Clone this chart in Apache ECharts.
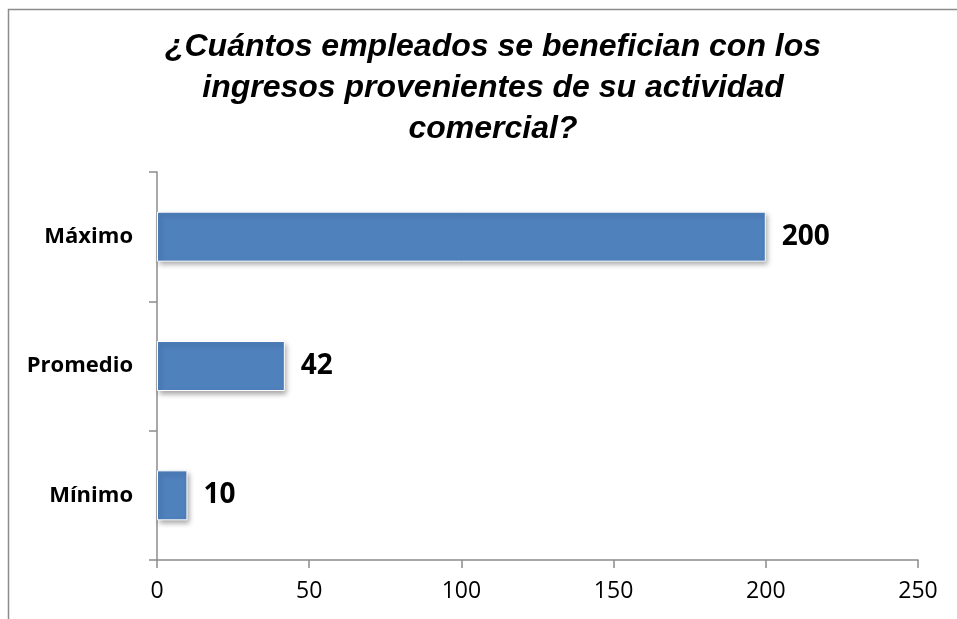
<!DOCTYPE html>
<html><head><meta charset="utf-8">
<script src="https://cdn.jsdelivr.net/npm/echarts@6/dist/echarts.min.js"></script>
<style>html,body{margin:0;padding:0;background:#fff}#c{width:957px;height:619px}</style>
</head><body><div id="c"></div>
<script>
const categories = ['Mínimo', 'Promedio', 'Máximo'];
const values = [10, 42, 200];
const titleText = '¿Cuántos empleados se benefician con los\ningresos provenientes de su actividad\ncomercial?';

const chart = echarts.init(document.getElementById('c'));
chart.setOption({
  animation: false,
  backgroundColor: '#fff',
  graphic: [
    { type: 'polyline', shape: { points: [[8.5, 619], [8.5, 9.5], [957, 9.5]] },
      style: { stroke: '#8c8c8c', lineWidth: 1.5, fill: null } }
  ],
  title: {
    text: titleText, left: 488, top: 22, textAlign: 'center',
    textStyle: { fontFamily: 'Liberation Sans', fontSize: 32, fontWeight: 'bold', fontStyle: 'italic', color: '#000', lineHeight: 41 }
  },
  grid: { left: 157, right: 39, top: 172, bottom: 59, containLabel: false },
  xAxis: {
    type: 'value', min: 0, max: 250, interval: 50,
    axisLine: { show: true, lineStyle: { color: '#8c8c8c', width: 1.5 } },
    axisTick: { show: true, length: 8, lineStyle: { color: '#8c8c8c', width: 1.5 } },
    splitLine: { show: false },
    axisLabel: { fontFamily: 'Open Sans', fontSize: 23, color: '#000', margin: 20 }
  },
  yAxis: {
    type: 'category', data: categories,
    axisLine: { show: true, lineStyle: { color: '#8c8c8c', width: 1.5 } },
    axisTick: { show: true, length: 8, lineStyle: { color: '#8c8c8c', width: 1.5 } },
    axisLabel: { fontFamily: 'Open Sans', fontSize: 22, fontWeight: 'bold', color: '#000', margin: 24 }
  },
  series: [{
    type: 'bar', data: values, barWidth: 50,
    itemStyle: { color: '#4F81BD', borderColor: '#ffffff', borderWidth: 1,
      shadowBlur: 5, shadowOffsetX: 2, shadowOffsetY: 3, shadowColor: 'rgba(0,0,0,0.35)' },
    label: { show: true, position: 'right', distance: 16, fontFamily: 'Open Sans', fontSize: 28, fontWeight: 'bold', color: '#000' }
  }]
});
</script></body></html>
